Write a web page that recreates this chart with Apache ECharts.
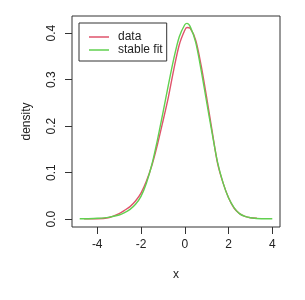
<!DOCTYPE html>
<html><head><meta charset="utf-8">
<script src="https://cdn.jsdelivr.net/npm/echarts@6/dist/echarts.min.js"></script>
<style>html,body{margin:0;padding:0;background:#fff}#c{width:305px;height:300px}</style>
</head><body><div id="c"></div>
<script>
// x positions and densities
var fitX = [-4.8,-4.5,-4.0,-3.5,-3.0,-2.75,-2.5,-2.25,-2.0,-1.75,-1.5,-1.25,-1.0,-0.75,-0.5,-0.25,0.0,0.1,0.25,0.5,0.75,1.0,1.25,1.5,1.75,2.0,2.25,2.5,2.75,3.0,3.5,4.0];
var fitY = [0.001,0.001,0.002,0.004,0.009,0.014,0.021,0.032,0.049,0.078,0.118,0.170,0.228,0.288,0.345,0.392,0.418,0.421,0.414,0.380,0.320,0.252,0.185,0.122,0.078,0.046,0.025,0.012,0.006,0.003,0.001,0.001];
var dataX = [-4.6,-4.0,-3.5,-3.0,-2.75,-2.5,-2.25,-2.0,-1.75,-1.5,-1.25,-1.0,-0.75,-0.5,-0.25,0.0,0.1,0.25,0.5,0.75,1.0,1.25,1.5,1.75,2.0,2.25,2.5,2.75,3.0,3.3];
var dataY = [0.001,0.001,0.003,0.012,0.019,0.027,0.039,0.056,0.082,0.116,0.160,0.210,0.262,0.322,0.375,0.406,0.412,0.410,0.385,0.330,0.262,0.190,0.120,0.078,0.046,0.024,0.012,0.006,0.003,0.002];
var xTicks = [-4,-2,0,2,4];
var yTicks = [0.0,0.1,0.2,0.3,0.4];
var seriesNames = ['data','stable fit'];

function pairs(xs, ys){ return xs.map(function(x,i){ return [x, ys[i]]; }); }
var font = 'Liberation Sans, Arial, sans-serif';
var chart = echarts.init(document.getElementById('c'), null, {renderer:'canvas'});
chart.setOption({
  animation:false,
  grid:{left:72,right:25,top:16,bottom:73,show:true,borderColor:'#333',borderWidth:1,backgroundColor:'transparent'},
  legend:{
    left:79, top:23, orient:'vertical',
    data:seriesNames,
    icon:'rect', itemWidth:20, itemHeight:1.5, itemGap:1,
    borderColor:'#333', borderWidth:1, padding:[8,4,5,10],
    textStyle:{fontFamily:font,fontSize:12,color:'#222',padding:[0,0,0,4]}
  },
  xAxis:{
    type:'value', min:-5.152, max:4.352,
    name:'x', nameLocation:'middle', nameGap:42,
    nameTextStyle:{fontFamily:font,fontSize:12,color:'#222'},
    axisLine:{show:false,onZero:false},
    axisTick:{show:true,length:7,customValues:xTicks,lineStyle:{color:'#333'}},
    axisLabel:{customValues:xTicks,margin:12,fontFamily:font,fontSize:12,color:'#222'},
    splitLine:{show:false}
  },
  yAxis:{
    type:'value', min:-0.0168, max:0.4368,
    name:'density', nameLocation:'middle', nameGap:39, nameRotate:90,
    nameTextStyle:{fontFamily:font,fontSize:12,color:'#222'},
    axisLine:{show:false,onZero:false},
    axisTick:{show:true,length:7,customValues:yTicks,lineStyle:{color:'#333'}},
    axisLabel:{customValues:yTicks,rotate:90,margin:14,fontFamily:font,fontSize:12,color:'#222',
      formatter:function(v){return v.toFixed(1);}},
    splitLine:{show:false}
  },
  series:[
    {name:seriesNames[0],type:'line',data:pairs(dataX,dataY),smooth:0.3,showSymbol:false,symbol:'none',
      lineStyle:{color:'#DF536B',width:1.4},itemStyle:{color:'#DF536B'}},
    {name:seriesNames[1],type:'line',data:pairs(fitX,fitY),smooth:0.3,showSymbol:false,symbol:'none',
      lineStyle:{color:'#61D04F',width:1.4},itemStyle:{color:'#61D04F'}}
  ]
});
</script></body></html>
